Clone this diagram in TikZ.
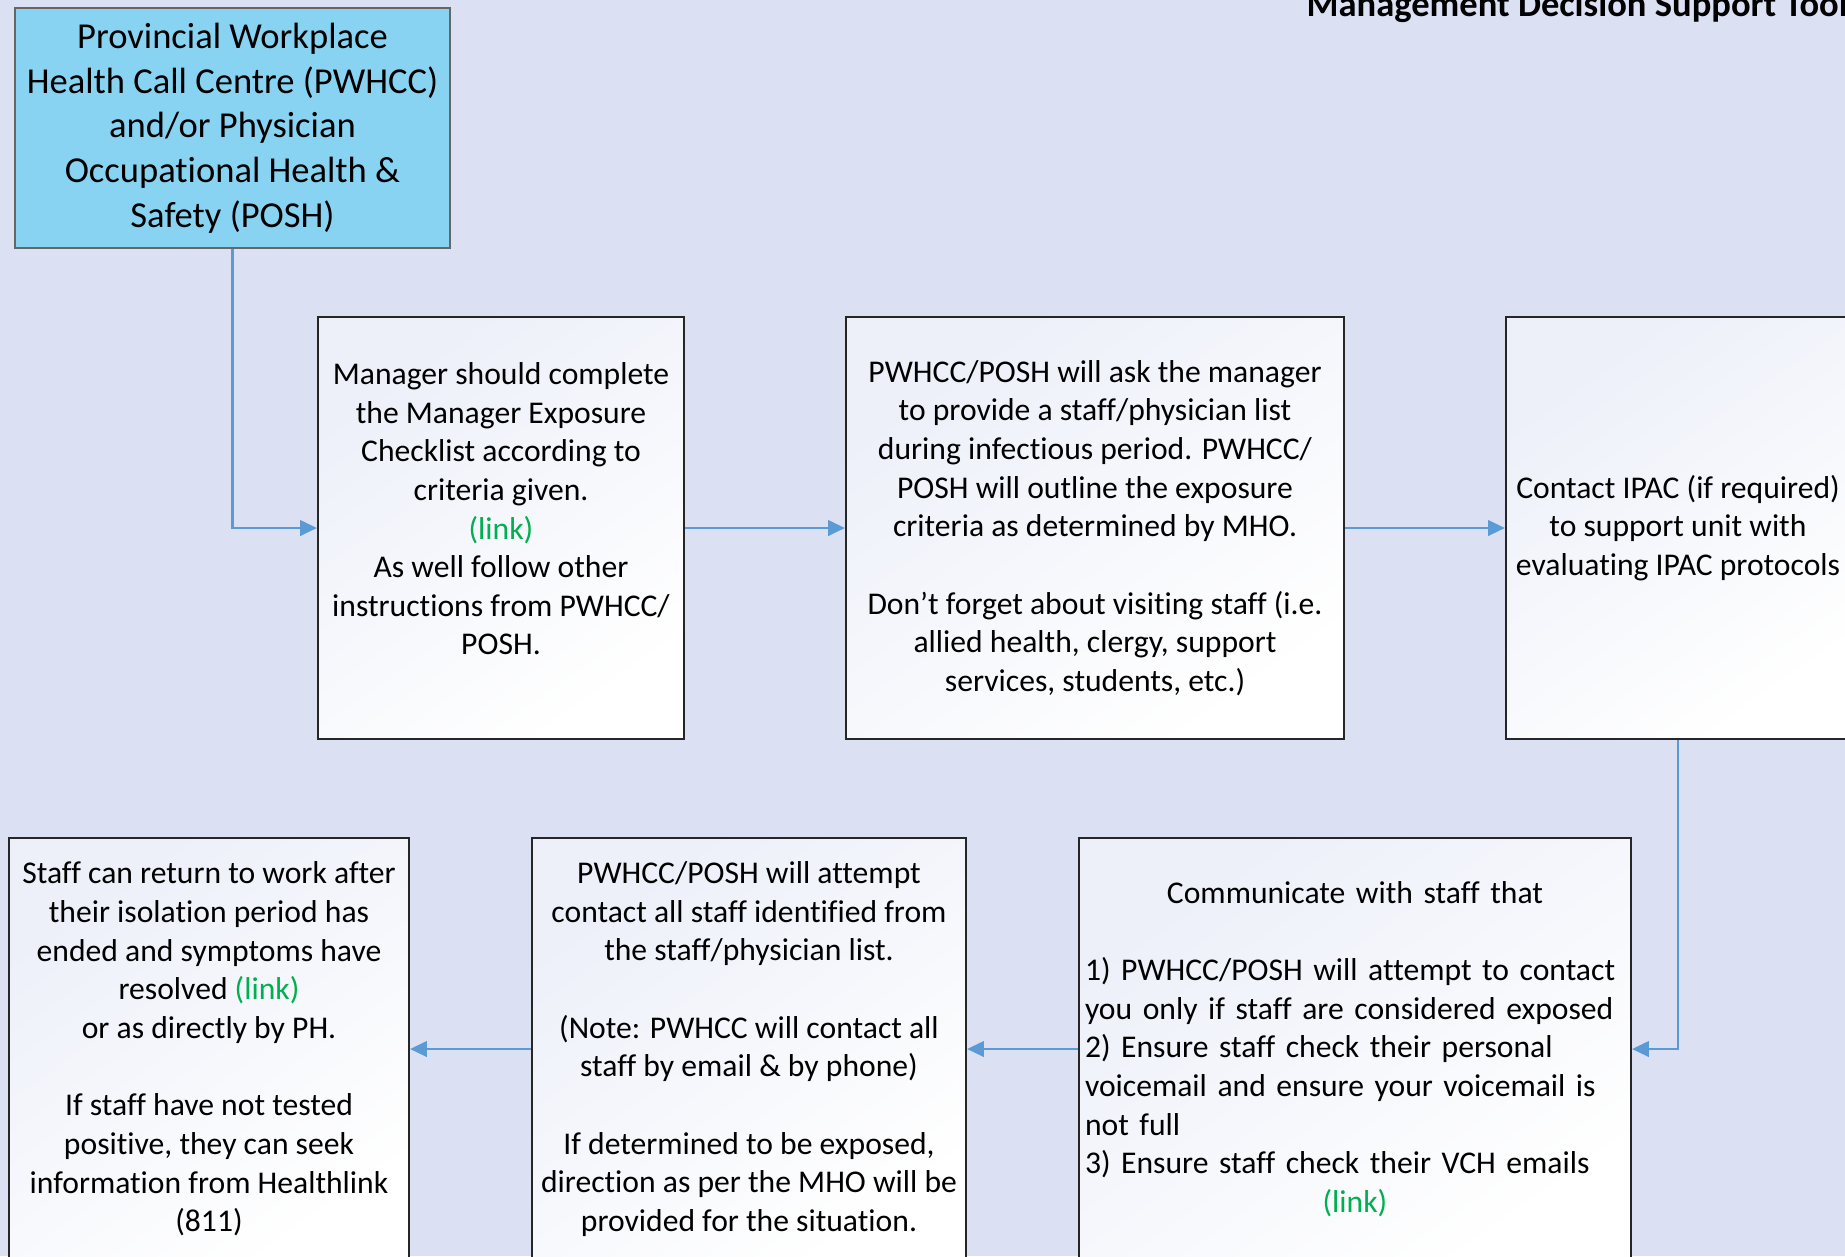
\documentclass[tikz,border=0pt]{standalone}
\usepackage{fontspec}
\setmainfont{Carlito}[Ligatures=NoCommon]
\usepackage{tikz}
\usetikzlibrary{arrows.meta}
\definecolor{fondo}{RGB}{219,224,243}
\definecolor{celeste}{RGB}{137,211,242}
\definecolor{flecha}{RGB}{91,155,213}
\definecolor{enlace}{RGB}{0,176,80}
\newcommand{\enlace}{\textcolor{enlace}{(link)}}

\begin{document}
\begin{tikzpicture}[x=0.1mm, y=-0.1mm,
    caja/.style={draw=black!85, line width=0.6pt, top color=fondo!50!white, bottom color=white,
      shading angle=35, align=center, minimum height=42.2mm, inner sep=1.5pt,
      font=\fontsize{9}{11}\selectfont},
    fuente/.style={draw=black!60, line width=0.5pt, fill=celeste, align=center,
      minimum width=43.5mm, minimum height=24mm, font=\fontsize{10.4}{12.7}\selectfont},
    conector/.style={draw=flecha, line width=0.7pt, -{Triangle[length=4.8pt,width=4.4pt]}}]

  % Fondo
  \clip (0,0) rectangle (1845,1256);
  \fill[fondo] (0,0) rectangle (1845,1256);

  % Titulo
  \node[anchor=base west, inner sep=0pt, font=\fontsize{10.4}{12.7}\selectfont\bfseries] (titulo) at (1306,16)
    {Management Decision Support Tool};

  % Fila superior
  \node[fuente] (fuente) at (232.5,128)
    {Provincial Workplace\\ Health Call Centre (PWHCC)\\ and/or Physician\\ Occupational Health \&\\ Safety (POSH)};
  \node[caja, minimum width=36.6mm] (gerente) at (501,528)
    {Manager should complete\\ the Manager Exposure\\ Checklist according to\\ criteria given.\\ \enlace\\
     As well follow other\\ instructions from PWHCC/\\ POSH.\\ ~};
  \node[caja, minimum width=49.8mm] (lista) at (1095,528)
    {PWHCC/POSH will ask the manager\\ to provide a staff/physician list\\ during infectious period. PWHCC/\\
     POSH will outline the exposure\\ criteria as determined by MHO.\\[11pt]
     Don’t forget about visiting staff (i.e.\\ allied health, clergy, support\\ services, students, etc.)};
  \node[caja, minimum width=34.4mm] (ipac) at (1678,528)
    {Contact IPAC (if required)\\ to support unit with\\ evaluating IPAC protocols};

  % Fila inferior
  \node[caja, minimum width=55.2mm, text width=54mm, align=left] (comunicar) at (1355,1049)
    {{\centering Communicate with staff that\par}\vspace{11pt}
     1) PWHCC/POSH will attempt to contact\\ you only if staff are considered exposed\\
     2) Ensure staff check their personal\\ voicemail and ensure your voicemail is\\ not full\\
     3) Ensure staff check their VCH emails\par
     {\centering\enlace\par}};
  \node[caja, minimum width=43.4mm] (contacto) at (749,1049)
    {PWHCC/POSH will attempt\\ contact all staff identified from\\ the staff/physician list.\\[11pt]
     (Note: PWHCC will contact all\\ staff by email \& by phone)\\[11pt]
     If determined to be exposed,\\ direction as per the MHO will be\\ provided for the situation.};
  \node[caja, minimum width=40mm] (regreso) at (209,1049)
    {Staff can return to work after\\ their isolation period has\\ ended and symptoms have\\ resolved \enlace\\
     or as directly by PH.\\[11pt]
     If staff have not tested\\ positive, they can seek\\ information from Healthlink\\ (811)};

  % Conectores
  \draw[conector] (fuente.south) |- (gerente.west);
  \draw[conector] (gerente) -- (lista);
  \draw[conector] (lista) -- (ipac);
  \draw[conector] (ipac.south) |- (comunicar.east);
  \draw[conector] (comunicar) -- (contacto);
  \draw[conector] (contacto) -- (regreso);
\end{tikzpicture}
\end{document}
